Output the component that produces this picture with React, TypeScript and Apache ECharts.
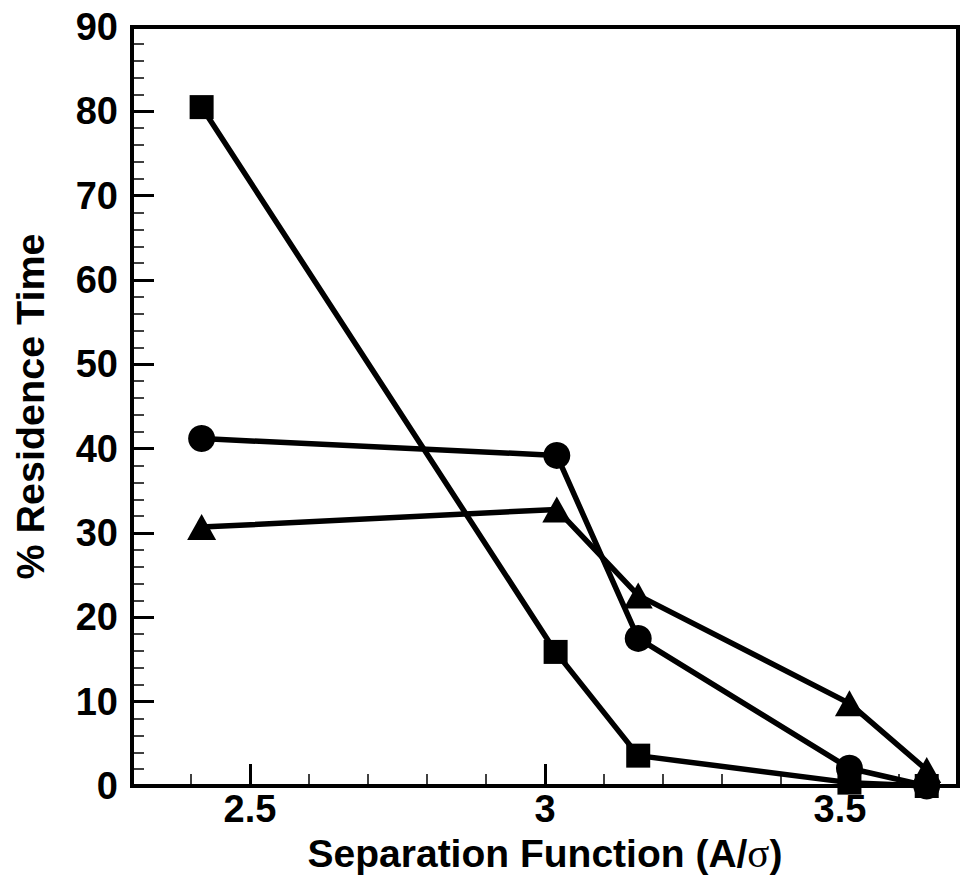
import React, { useEffect, useRef } from "react";
import * as echarts from "echarts";

const xSquare = [2.418, 3.018, 3.158, 3.516, 3.647];
const ySquare = [80.5, 15.9, 3.6, 0.4, 0.0];
const xCircle = [2.418, 3.02, 3.158, 3.516, 3.647];
const yCircle = [41.2, 39.2, 17.5, 2.1, 0.0];
const xTriangle = [2.418, 3.02, 3.158, 3.516, 3.647];
const yTriangle = [30.7, 32.8, 22.6, 9.8, 1.9];
const xMajorTicks = [2.5, 3, 3.5];
const xMinorTicks = [2.4, 2.6, 2.7, 2.8, 2.9, 3.1, 3.2, 3.3, 3.4, 3.6];

const pair = (xs: number[], ys: number[]) => xs.map((x, i) => [x, ys[i]]);

const FONT = "'Liberation Sans', Arial, sans-serif";

export default function App() {
  const ref = useRef<HTMLDivElement>(null);
  useEffect(() => {
    if (!ref.current) return;
    const chart = echarts.init(ref.current, null, { renderer: "svg" });
    const lineStyle = { color: "#000", width: 5.5 };
    const itemStyle = { color: "#000" };
    chart.setOption({
      animation: false,
      backgroundColor: "#fff",
      grid: {
        left: 132,
        right: 5,
        top: 27,
        bottom: 98,
        show: true,
        borderColor: "#000",
        borderWidth: 4,
        backgroundColor: "transparent",
      },
      xAxis: [
        {
          type: "value",
          min: 2.3,
          max: 3.7,
          position: "bottom",
          name: "{a|Separation Function (A/}{b|σ}{a|)}",
          nameLocation: "middle",
          nameGap: 40,
          nameTextStyle: {
            rich: {
              a: { fontFamily: FONT, fontWeight: "bold", fontSize: 39, color: "#000" },
              b: { fontFamily: "'Liberation Serif', serif", fontWeight: "normal", fontSize: 41, color: "#000" },
            },
          },
          axisLine: { show: true, lineStyle: { color: "#000", width: 4 } },
          axisTick: {
            show: true,
            inside: true,
            length: 12,
            customValues: xMinorTicks,
            lineStyle: { color: "#000", width: 1.5 },
          },
          axisLabel: {
            customValues: xMajorTicks,
            margin: 4,
            fontFamily: FONT,
            fontWeight: "bold",
            fontSize: 38,
            color: "#000",
            formatter: (v: number) => String(v),
          },
          splitLine: { show: false },
        },
        {
          type: "value",
          min: 2.3,
          max: 3.7,
          position: "bottom",
          axisLine: { show: false },
          axisTick: {
            show: true,
            inside: true,
            length: 22,
            customValues: xMajorTicks,
            lineStyle: { color: "#000", width: 3 },
          },
          axisLabel: { show: false },
          splitLine: { show: false },
        },
      ],
      yAxis: {
        type: "value",
        min: 0,
        max: 90,
        interval: 10,
        name: "% Residence Time",
        nameLocation: "middle",
        nameGap: 82,
        nameTextStyle: { fontFamily: FONT, fontWeight: "bold", fontSize: 39.5, color: "#000" },
        axisLine: { show: true, lineStyle: { color: "#000", width: 4 } },
        axisTick: { show: true, inside: true, length: 22, lineStyle: { color: "#000", width: 3 } },
        minorTick: { show: true, splitNumber: 5, length: 12, lineStyle: { color: "#000", width: 1.5 } },
        axisLabel: { margin: 14, fontFamily: FONT, fontWeight: "bold", fontSize: 38, color: "#000" },
        splitLine: { show: false },
        minorSplitLine: { show: false },
      },
      series: [
        {
          type: "line",
          data: pair(xCircle, yCircle),
          symbol: "circle",
          symbolSize: 27,
          lineStyle,
          itemStyle,
          clip: false,
        },
        {
          type: "line",
          data: pair(xSquare, ySquare),
          symbol: "rect",
          symbolSize: 24,
          lineStyle,
          itemStyle,
          clip: false,
        },
        {
          type: "line",
          data: pair(xTriangle, yTriangle),
          symbol: "triangle",
          symbolSize: [29, 26],
          lineStyle,
          itemStyle,
          clip: false,
        },
      ],
    });
    return () => chart.dispose();
  }, []);
  return <div ref={ref} style={{ width: 963, height: 884, position: "absolute", left: 0, top: 0 }} />;
}
